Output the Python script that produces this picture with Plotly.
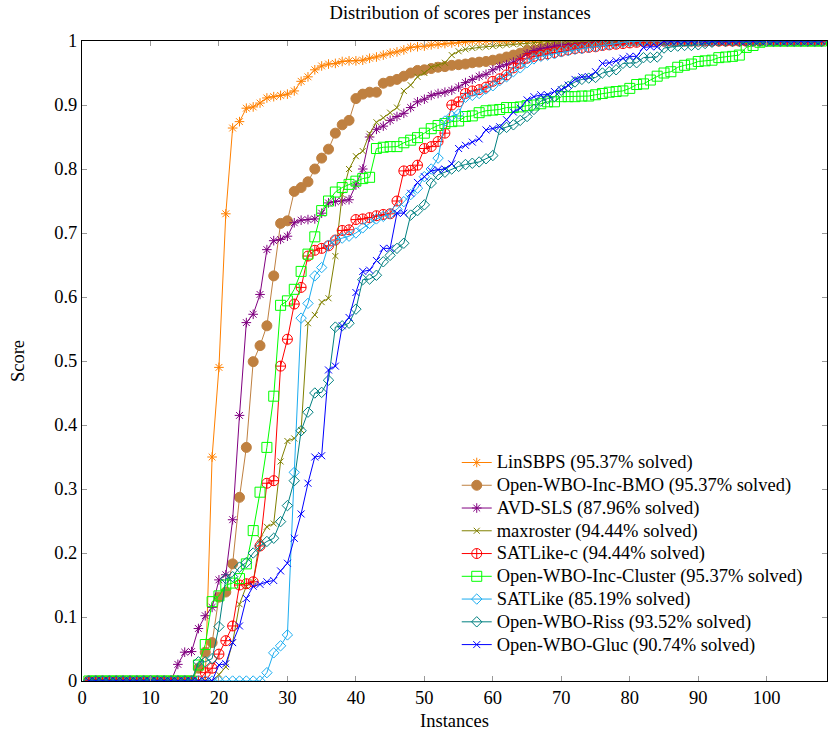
import plotly.graph_objects as go

instances = list(range(1, 109))

linsbps = [0, 0, 0, 0, 0, 0, 0, 0, 0, 0, 0, 0, 0, 0, 0, 0, 0, 0,
           0.35, 0.49, 0.73, 0.864, 0.874, 0.895, 0.897, 0.903, 0.911, 0.913,
           0.915, 0.917, 0.922, 0.937, 0.944, 0.955, 0.961, 0.964, 0.965, 0.968,
           0.969, 0.969, 0.970, 0.973, 0.975, 0.978, 0.981, 0.983, 0.986, 0.990,
           0.991, 0.992, 0.994, 0.995, 0.996, 0.997, 0.998, 0.999,
           1, 1, 1, 1, 1, 1, 1, 1, 1, 1, 1, 1, 1, 1, 1, 1, 1, 1, 1, 1, 1, 1, 1, 1, 1, 1,
           1, 1, 1, 1, 1, 1, 1, 1, 1, 1, 1, 1, 1, 1, 1, 1, 1, 1, 1, 1, 1, 1, 1, 1, 1, 1]

bmo = [0, 0, 0, 0, 0, 0, 0, 0, 0, 0, 0, 0, 0, 0, 0, 0,
       0.02, 0.045, 0.06, 0.131, 0.139, 0.183, 0.287, 0.365, 0.499, 0.524,
       0.555, 0.633, 0.715, 0.719, 0.765, 0.771, 0.780, 0.800, 0.817, 0.831,
       0.856, 0.869, 0.876, 0.910, 0.917, 0.920, 0.920, 0.934, 0.937, 0.940,
       0.945, 0.950, 0.954, 0.955, 0.957, 0.959, 0.960, 0.962, 0.963, 0.964,
       0.966, 0.967, 0.968, 0.970, 0.972, 0.975, 0.978, 0.981, 0.985, 0.986,
       0.988, 0.990, 0.992, 0.994, 0.996, 0.997, 0.998, 0.999,
       1, 1, 1, 1, 1, 1, 1, 1, 1, 1, 1, 1, 1, 1, 1, 1, 1,
       1, 1, 1, 1, 1, 1, 1, 1, 1, 1, 1, 1, 1, 1, 1, 1, 1]

avd_sls = [0, 0, 0, 0, 0, 0, 0, 0, 0, 0, 0, 0, 0,
           0.026, 0.045, 0.046, 0.082, 0.102, 0.115, 0.158, 0.166, 0.252, 0.415,
           0.560, 0.573, 0.604, 0.674, 0.688, 0.690, 0.695, 0.716, 0.720, 0.721,
           0.722, 0.731, 0.747, 0.749, 0.750, 0.752, 0.775, 0.800, 0.850, 0.862,
           0.867, 0.876, 0.882, 0.887, 0.896, 0.905, 0.909, 0.915, 0.918, 0.920,
           0.923, 0.928, 0.935, 0.940, 0.945, 0.948, 0.955, 0.960, 0.963, 0.967,
           0.972, 0.980, 0.985, 0.988, 0.990, 0.992, 0.994, 0.995, 0.996, 0.997,
           0.998, 0.999,
           1, 1, 1, 1, 1, 1, 1, 1, 1, 1, 1, 1, 1, 1, 1, 1, 1,
           1, 1, 1, 1, 1, 1, 1, 1, 1, 1, 1, 1, 1, 1, 1, 1]

maxroster = [0, 0, 0, 0, 0, 0, 0, 0, 0, 0, 0, 0, 0, 0, 0, 0, 0, 0, 0,
             0.01, 0.022, 0.06, 0.12, 0.148, 0.155, 0.223, 0.241, 0.246, 0.343,
             0.375, 0.379, 0.392, 0.559, 0.572, 0.592, 0.598, 0.664, 0.760, 0.800,
             0.820, 0.828, 0.855, 0.873, 0.880, 0.888, 0.896, 0.922, 0.931, 0.944,
             0.950, 0.959, 0.962, 0.966, 0.978, 0.984, 0.987, 0.989, 0.990, 0.991,
             0.992, 0.993, 0.994, 0.995, 0.995, 0.996, 0.997, 0.998, 0.999,
             1, 1, 1, 1, 1, 1, 1, 1, 1, 1, 1, 1, 1, 1, 1, 1, 1, 1, 1, 1,
             1, 1, 1, 1, 1, 1, 1, 1, 1, 1, 1, 1, 1, 1, 1, 1, 1, 1, 1, 1]

satlike_c = [0, 0, 0, 0, 0, 0, 0, 0, 0, 0, 0, 0, 0, 0, 0, 0, 0,
             0.013, 0.02, 0.042, 0.063, 0.086, 0.150, 0.152, 0.155, 0.211, 0.309,
             0.313, 0.492, 0.534, 0.589, 0.615, 0.664, 0.673, 0.676, 0.680, 0.689,
             0.704, 0.705, 0.721, 0.722, 0.724, 0.727, 0.729, 0.730, 0.750, 0.797,
             0.798, 0.806, 0.832, 0.835, 0.843, 0.856, 0.900, 0.905, 0.918, 0.922,
             0.924, 0.928, 0.937, 0.941, 0.947, 0.958, 0.965, 0.973, 0.976, 0.978,
             0.980, 0.982, 0.984, 0.986, 0.988, 0.989, 0.990, 0.991, 0.993, 0.994,
             0.995, 0.996, 0.997, 0.998, 0.999,
             1, 1, 1, 1, 1, 1, 1, 1, 1, 1, 1, 1, 1,
             1, 1, 1, 1, 1, 1, 1, 1, 1, 1, 1, 1, 1]

cluster = [0, 0, 0, 0, 0, 0, 0, 0, 0, 0, 0, 0, 0, 0, 0, 0,
           0.025, 0.057, 0.124, 0.133, 0.150, 0.153, 0.160, 0.183, 0.235, 0.295,
           0.365, 0.445, 0.587, 0.594, 0.612, 0.640, 0.667, 0.694, 0.735, 0.750,
           0.764, 0.771, 0.776, 0.781, 0.785, 0.787, 0.832, 0.834, 0.835, 0.835,
           0.841, 0.845, 0.849, 0.856, 0.863, 0.868, 0.871, 0.874, 0.875, 0.882,
           0.883, 0.888, 0.891, 0.892, 0.893, 0.896, 0.896, 0.897, 0.899, 0.900,
           0.902, 0.905, 0.905, 0.913, 0.913, 0.913, 0.914, 0.914, 0.916, 0.918,
           0.920, 0.921, 0.922, 0.926, 0.932, 0.933, 0.939, 0.945, 0.950, 0.952,
           0.959, 0.962, 0.964, 0.968, 0.969, 0.970, 0.974, 0.975, 0.976, 0.978,
           0.990, 0.993, 0.998,
           1, 1, 1, 1, 1, 1, 1, 1, 1]

satlike = [0, 0, 0, 0, 0, 0, 0, 0, 0, 0, 0, 0, 0, 0, 0, 0, 0, 0, 0, 0, 0, 0, 0, 0, 0, 0,
           0.013, 0.044, 0.055, 0.072, 0.326, 0.567, 0.590, 0.633, 0.646, 0.681,
           0.689, 0.692, 0.695, 0.700, 0.708, 0.715, 0.722, 0.726, 0.730, 0.737,
           0.749, 0.760, 0.770, 0.788, 0.800, 0.817, 0.875, 0.883, 0.886, 0.912,
           0.915, 0.918, 0.925, 0.930, 0.938, 0.944, 0.952, 0.958, 0.966, 0.972,
           0.976, 0.978, 0.980, 0.983, 0.985, 0.987, 0.988, 0.990, 0.991, 0.993,
           0.994, 0.996, 0.998, 0.999,
           1, 1, 1, 1, 1, 1, 1, 1, 1, 1, 1, 1, 1, 1,
           1, 1, 1, 1, 1, 1, 1, 1, 1, 1, 1, 1, 1, 1]

riss = [0, 0, 0, 0, 0, 0, 0, 0, 0, 0, 0, 0, 0, 0, 0, 0,
        0.03, 0.03, 0.035, 0.085, 0.160, 0.163, 0.178, 0.185, 0.200, 0.211,
        0.218, 0.223, 0.249, 0.274, 0.313, 0.391, 0.420, 0.450, 0.451, 0.470,
        0.553, 0.555, 0.559, 0.581, 0.627, 0.628, 0.634, 0.655, 0.665, 0.676,
        0.684, 0.728, 0.735, 0.744, 0.778, 0.791, 0.795, 0.800, 0.804, 0.807,
        0.809, 0.811, 0.816, 0.821, 0.862, 0.865, 0.869, 0.876, 0.882, 0.893,
        0.906, 0.910, 0.913, 0.923, 0.929, 0.936, 0.940, 0.942, 0.943, 0.950,
        0.952, 0.955, 0.965, 0.966, 0.966, 0.974, 0.974, 0.975, 0.989, 0.991,
        0.992, 0.993, 0.993, 0.994, 0.996, 0.998,
        1, 1, 1, 1, 1, 1, 1, 1, 1, 1, 1, 1, 1, 1, 1, 1]

gluc = [0, 0, 0, 0, 0, 0, 0, 0, 0, 0, 0, 0, 0, 0, 0, 0, 0, 0, 0,
        0.025, 0.027, 0.060, 0.086, 0.129, 0.148, 0.151, 0.155, 0.157, 0.172,
        0.184, 0.223, 0.261, 0.309, 0.350, 0.352, 0.486, 0.492, 0.555, 0.568,
        0.607, 0.640, 0.642, 0.657, 0.676, 0.676, 0.731, 0.731, 0.762, 0.779,
        0.788, 0.797, 0.799, 0.800, 0.808, 0.832, 0.837, 0.842, 0.847, 0.861,
        0.863, 0.866, 0.877, 0.889, 0.895, 0.908, 0.913, 0.916, 0.916, 0.921,
        0.924, 0.931, 0.940, 0.944, 0.944, 0.952, 0.965, 0.966, 0.969, 0.973,
        0.976, 0.976, 0.990, 0.991, 0.991,
        1, 1, 1, 1, 1, 1, 1, 1, 1, 1, 1, 1,
        1, 1, 1, 1, 1, 1, 1, 1, 1, 1, 1, 1]

series_names = [
    "LinSBPS (95.37% solved)",
    "Open-WBO-Inc-BMO (95.37% solved)",
    "AVD-SLS (87.96% solved)",
    "maxroster (94.44% solved)",
    "SATLike-c (94.44% solved)",
    "Open-WBO-Inc-Cluster (95.37% solved)",
    "SATLike (85.19% solved)",
    "Open-WBO-Riss (93.52% solved)",
    "Open-WBO-Gluc (90.74% solved)",
]
series_values = [linsbps, bmo, avd_sls, maxroster, satlike_c, cluster, satlike, riss, gluc]

styles = [
    dict(color="#FF8000", symbol="asterisk-open", size=8),
    dict(color="#BF8040", symbol="circle", size=10),
    dict(color="#800080", symbol="asterisk-open", size=8),
    dict(color="#808000", symbol="x-thin-open", size=6),
    dict(color="#FF0000", symbol="circle-cross-open", size=10),
    dict(color="#00FF00", symbol="square-open", size=10),
    dict(color="#1AACF0", symbol="diamond-open", size=8),
    dict(color="#008080", symbol="diamond-open", size=8),
    dict(color="#0000FF", symbol="x-thin-open", size=7),
]

font_family = "Liberation Serif, Times New Roman, serif"
FS = 18.5

fig = go.Figure()
for name, vals, st in zip(series_names, series_values, styles):
    fig.add_trace(go.Scatter(
        x=instances, y=vals,
        name='<span style="font-size:%gpx">%s</span>' % (FS, name),
        mode="lines+markers",
        line=dict(color=st["color"], width=1),
        marker=dict(symbol=st["symbol"], size=st["size"], color=st["color"],
                    line=dict(color=st["color"], width=1)),
    ))

fig.update_layout(
    width=829, height=733,
    margin=dict(l=82, r=2, t=41, b=52),
    paper_bgcolor="white", plot_bgcolor="white",
    font=dict(family=font_family, size=FS, color="black"),
    title=dict(text="Distribution of scores per instances", x=0.555, xanchor="center",
               y=0.992, yanchor="top", font=dict(family=font_family, size=FS)),
    showlegend=True,
    legend=dict(x=0.503, y=0.367, xanchor="left", yanchor="top",
                bgcolor="rgba(255,255,255,0)", borderwidth=0,
                font=dict(family=font_family, size=15.2), tracegroupgap=0),
    xaxis=dict(range=[0, 108.8], tickvals=[0, 10, 20, 30, 40, 50, 60, 70, 80, 90, 100],
               showline=True, linecolor="black", linewidth=1, mirror="ticks",
               ticks="inside", ticklen=5, tickcolor="#999999", showgrid=False, zeroline=False,
               title=dict(text="Instances", standoff=6, font=dict(size=FS)),
               tickfont=dict(size=FS)),
    yaxis=dict(range=[0, 1], dtick=0.1, tick0=0,
               showline=True, linecolor="black", linewidth=1, mirror="ticks",
               ticks="inside", ticklen=5, tickcolor="#999999", showgrid=False, zeroline=False,
               title=dict(text="Score", standoff=24, font=dict(size=FS)),
               tickfont=dict(size=FS)),
)

fig.write_html("out.html")
